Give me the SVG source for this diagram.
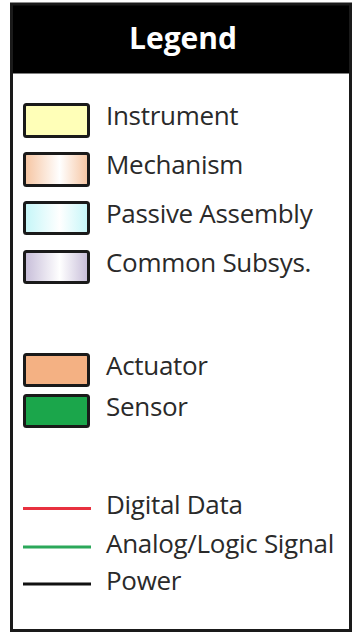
<svg xmlns="http://www.w3.org/2000/svg" width="354" height="634" viewBox="0 0 354 634">
<defs>
<linearGradient id="gMech" x1="0" y1="0" x2="1" y2="0"><stop offset="0" stop-color="#F6C4A0"/><stop offset="0.55" stop-color="#FFFFFF"/><stop offset="1" stop-color="#F6C4A0"/></linearGradient>
<linearGradient id="gPass" x1="0" y1="0" x2="1" y2="0"><stop offset="0" stop-color="#C4F6F8"/><stop offset="0.55" stop-color="#FFFFFF"/><stop offset="1" stop-color="#C4F6F8"/></linearGradient>
<linearGradient id="gComm" x1="0" y1="0" x2="1" y2="0"><stop offset="0" stop-color="#C6BCD8"/><stop offset="0.55" stop-color="#FFFFFF"/><stop offset="1" stop-color="#C6BCD8"/></linearGradient>
<style>
.sw{stroke:#1a1a1a;stroke-width:3}
.lbl{font-family:"Open Sans","Liberation Sans",sans-serif;font-size:26px;fill:#2a2a2a;letter-spacing:-0.3px}
.ln{stroke-width:3;fill:none}
</style>
</defs>
<rect x="0" y="0" width="354" height="634" fill="#FFFFFF"/>
<g id="frame">
<rect x="10" y="3.5" width="341" height="70" fill="#000000"/>
<rect x="11.5" y="4" width="339" height="626.5" fill="none" stroke="#1a1a1a" stroke-width="3"/>
<text x="183" y="49" text-anchor="middle" font-family="'Open Sans',Lato,sans-serif" font-weight="bold" font-size="30" fill="#FFFFFF">Legend</text>
</g>
<g id="instrument"><rect class="sw" x="24.5" y="104.5" width="64" height="32" rx="2" fill="#FFFFB8"/><text class="lbl" x="106" y="125">Instrument</text></g>
<g id="mechanism"><rect class="sw" x="24.5" y="153.5" width="64" height="32" rx="2" fill="url(#gMech)"/><text class="lbl" x="106" y="174">Mechanism</text></g>
<g id="passive"><rect class="sw" x="24.5" y="202.5" width="64" height="31" rx="2" fill="url(#gPass)"/><text class="lbl" x="106" y="223">Passive Assembly</text></g>
<g id="common"><rect class="sw" x="24.5" y="251.5" width="64" height="31" rx="2" fill="url(#gComm)"/><text class="lbl" x="106" y="272">Common Subsys.</text></g>
<g id="actuator"><rect class="sw" x="24.5" y="354.5" width="64" height="31" rx="2" fill="#F4B183"/><text class="lbl" x="106" y="375">Actuator</text></g>
<g id="sensor"><rect class="sw" x="24.5" y="395.5" width="64" height="31" rx="2" fill="#1BA64B"/><text class="lbl" x="106" y="416">Sensor</text></g>
<g id="connectors">
<line class="ln" x1="23" y1="508.5" x2="91" y2="508.5" stroke="#E8313F"/>
<line class="ln" x1="23" y1="547" x2="91" y2="547" stroke="#2BA85A"/>
<line class="ln" x1="23" y1="584" x2="91" y2="584" stroke="#111111"/>
</g>
<g id="line-labels">
<text class="lbl" x="106" y="514">Digital Data</text>
<text class="lbl" x="106" y="553">Analog/Logic Signal</text>
<text class="lbl" x="106" y="590">Power</text>
</g>
</svg>
